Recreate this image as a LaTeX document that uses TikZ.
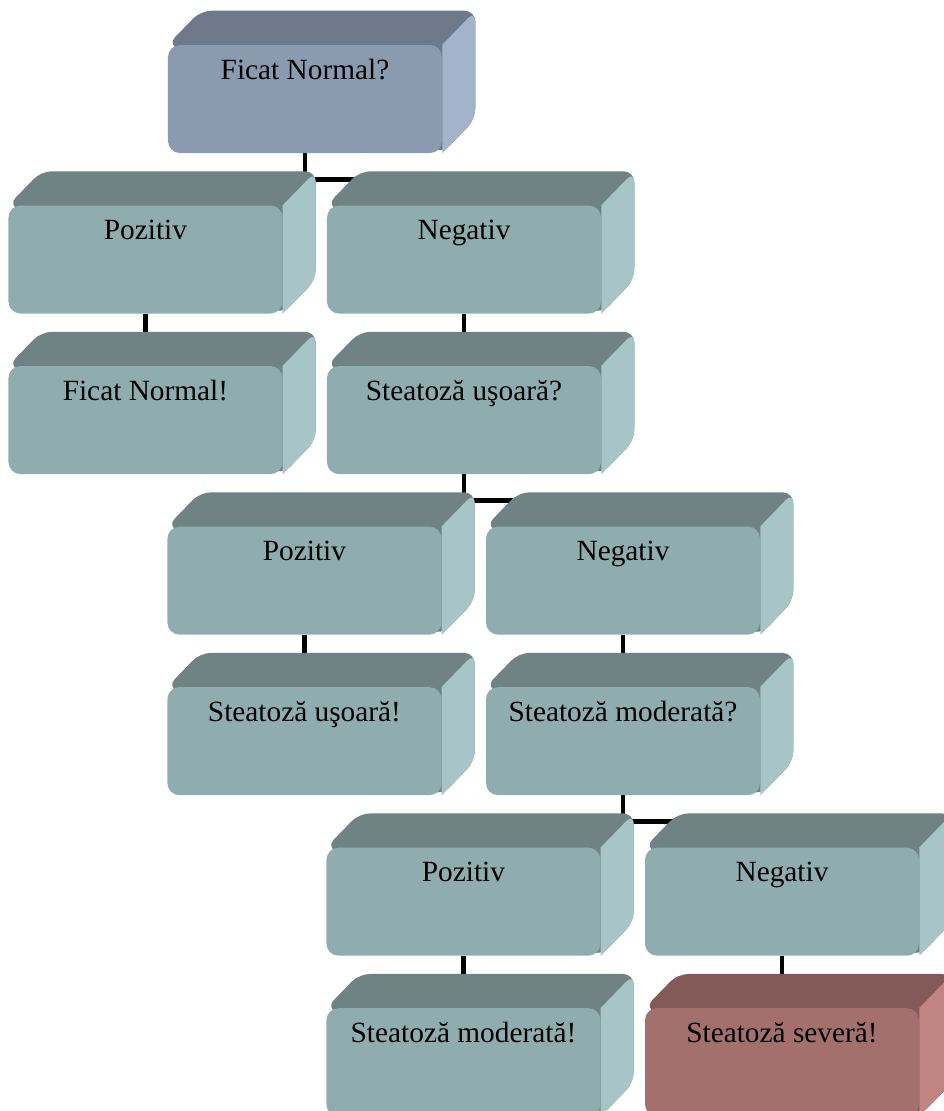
\documentclass[tikz,border=0pt]{standalone}
\usepackage{fontspec}
\setmainfont{Liberation Serif}
\usetikzlibrary{calc, positioning, backgrounds}
\definecolor{bluefront}{HTML}{8A9AAF}
\definecolor{bluetop}{HTML}{6E7A8C}
\definecolor{blueside}{HTML}{A3B3C9}
\definecolor{tealfront}{HTML}{8FADAE}
\definecolor{tealtop}{HTML}{6F8384}
\definecolor{tealside}{HTML}{A7C5C7}
\definecolor{redfront}{HTML}{A3706E}
\definecolor{redtop}{HTML}{845A58}
\definecolor{redside}{HTML}{C08582}

\pgfdeclarelayer{edges}
\pgfdeclarelayer{faces}
\pgfsetlayers{edges,faces,main}

% top and right faces behind a front node: #1 node, #2 top colour, #3 side colour
\newcommand{\boxdepth}[3]{%
  \fill[#2, rounded corners=8pt] (#1.north west) -- ++(24.75pt,25.5pt)
    -- ($(#1.north east)+(24.75pt,25.5pt)$) -- ($(#1.south east)+(24.75pt,25.5pt)$)
    -- (#1.south east) -- cycle;
  \fill[#3] (#1.north east) [rounded corners=8pt] -- ($(#1.north east)+(24.75pt,25.5pt)$)
    -- ($(#1.south east)+(24.75pt,25.5pt)$) [sharp corners] -- (#1.south east) -- cycle;
}

\tikzset{
  stepbox/.style={rectangle, rounded corners=9pt, minimum width=205.5pt, minimum height=81pt,
    inner xsep=4pt, inner ysep=0pt, text height=25.5pt, text depth=55.5pt,
    font=\fontsize{22}{26}\selectfont},
  bluebox/.style={stepbox, fill=bluefront},
  tealbox/.style={stepbox, fill=tealfront},
  redbox/.style={stepbox, fill=redfront},
  link/.style={line width=3.6pt, black}
}

\begin{document}
\begin{tikzpicture}
        \useasboundingbox (-228.75pt,74.25pt) rectangle (479.25pt,-759pt);

        \node [bluebox] (root) {Ficat Normal?};
        \node [tealbox, below=39pt of root, xshift=119.25pt] (neg1) {Negativ};
        \node [tealbox, left=33pt of neg1] (pos1) {Pozitiv};
        \node [tealbox, below=39pt of pos1] (normal) {Ficat Normal!};
        \node [tealbox, below=39pt of neg1] (usoara) {Steatoză uşoară?};

        \node [tealbox, below=39pt of usoara, xshift=119.25pt] (neg2) {Negativ};
        \node [tealbox, left=33pt of neg2] (pos2) {Pozitiv};
        \node [tealbox, below=39pt of pos2] (usoaraok) {Steatoză uşoară!};
        \node [tealbox, below=39pt of neg2] (moderata) {Steatoză moderată?};

        \node [tealbox, below=39pt of moderata, xshift=119.25pt] (neg3) {Negativ};
        \node [tealbox, left=33pt of neg3] (pos3) {Pozitiv};
        \node [tealbox, below=39pt of pos3] (moderataok) {Steatoză moderată!};
        \node [redbox, below=39pt of neg3] (severa) {Steatoză severă!};

        \begin{pgfonlayer}{faces}
        \boxdepth{root}{bluetop}{blueside}
        \boxdepth{pos1}{tealtop}{tealside}
        \boxdepth{neg1}{tealtop}{tealside}
        \boxdepth{normal}{tealtop}{tealside}
        \boxdepth{usoara}{tealtop}{tealside}
        \boxdepth{pos2}{tealtop}{tealside}
        \boxdepth{neg2}{tealtop}{tealside}
        \boxdepth{usoaraok}{tealtop}{tealside}
        \boxdepth{moderata}{tealtop}{tealside}
        \boxdepth{pos3}{tealtop}{tealside}
        \boxdepth{neg3}{tealtop}{tealside}
        \boxdepth{moderataok}{tealtop}{tealside}
        \boxdepth{severa}{redtop}{redside}
        \end{pgfonlayer}

        \begin{pgfonlayer}{edges}
        \draw [link] (root.south) -- ++(0,-19.5pt) -| (pos1.north);
        \draw [link] (root.south) -- ++(0,-19.5pt) -| (neg1.north);
        \draw [link] (pos1.south) -- (normal.north);
        \draw [link] (neg1.south) -- (usoara.north);
        \draw [link] (usoara.south) -- ++(0,-19.5pt) -| (pos2.north);
        \draw [link] (usoara.south) -- ++(0,-19.5pt) -| (neg2.north);
        \draw [link] (pos2.south) -- (usoaraok.north);
        \draw [link] (neg2.south) -- (moderata.north);
        \draw [link] (moderata.south) -- ++(0,-19.5pt) -| (pos3.north);
        \draw [link] (moderata.south) -- ++(0,-19.5pt) -| (neg3.north);
        \draw [link] (pos3.south) -- (moderataok.north);
        \draw [link] (neg3.south) -- (severa.north);
        \end{pgfonlayer}
        \end{tikzpicture}
\end{document}
